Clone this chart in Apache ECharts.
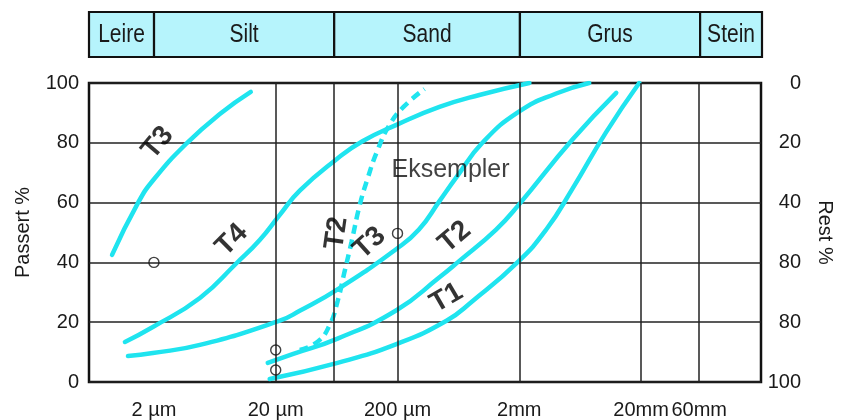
<!DOCTYPE html>
<html><head><meta charset="utf-8">
<script src="https://cdn.jsdelivr.net/npm/echarts@6/dist/echarts.min.js"></script>
<style>html,body{margin:0;padding:0;background:#fff}#c{width:843px;height:420px}</style>
</head><body><div id="c"></div>
<script>
// ---- axis ranges (grain size in mm, log scale) ----
const X_MIN = 0.000586, X_MAX = 193;
// ---- soil class bar ----
const soilBounds = [X_MIN, 0.002, 0.06, 2, 60, X_MAX];
const soilNames = ['Leire', 'Silt', 'Sand', 'Grus', 'Stein'];
// ---- grid / ticks ----
const gridX = [0.002, 0.02, 0.06, 0.2, 2, 20, 60];
const xTickValues = [0.002, 0.02, 0.2, 2, 20, 60];
const xTickLabels = ['2 µm', '20 µm', '200 µm', '2mm', '20mm', '60mm'];
const leftTickLabels = ['0', '20', '40', '60', '80', '100'];
const rightTickLabels = ['0', '20', '40', '80', '80', '100'];
// ---- curves (x: mm, y: passing %) ----
const t3aX = [0.000906, 0.00148, 0.002, 0.00373, 0.00695, 0.01248];
const t3aY = [42.5, 59.9, 67.8, 79.9, 89.6, 97.0];
const t4X = [0.001156, 0.00196, 0.00477, 0.00957, 0.01478, 0.0216, 0.0315, 0.0632, 0.103, 0.196, 0.442, 0.94, 2.42];
const t4Y = [13.4, 18.4, 28.1, 39.8, 47.5, 55.9, 64, 74.5, 80.5, 86, 92, 96, 100];
const t3bX = [0.001224, 0.00196, 0.00477, 0.0216, 0.0315, 0.0644, 0.196, 0.3, 0.442, 0.61, 0.995, 2.0, 4.02, 7.5];
const t3bY = [8.7, 9.7, 12.4, 20.5, 23.8, 31, 44.5, 51, 60.5, 68.5, 80, 90.5, 96.5, 100];
const t2X = [0.0172, 0.0275, 0.0644, 0.196, 0.442, 0.644, 1.29, 2.0, 5.44, 12.5];
const t2Y = [6.4, 9.3, 14.5, 24, 35, 40.5, 51, 59.5, 81, 96.7];
const t1X = [0.01786, 0.0644, 0.196, 0.505, 0.824, 1.93, 3.33, 5.44, 10.3, 19.3];
const t1Y = [1.0, 6.4, 12.7, 20.5, 27, 40, 51, 64.5, 83.5, 100];
const t2dX = [0.0315, 0.0442, 0.0554, 0.0644, 0.0736, 0.084, 0.0977, 0.1135, 0.137, 0.172, 0.224, 0.333];
const t2dY = [10.7, 13.5, 19, 27, 37, 47, 59, 68, 77.5, 86, 92, 98];
// ---- sample circles ----
const circleX = [0.002, 0.02, 0.02, 0.2];
const circleY = [40, 10.7, 4, 49.7];
// ---- annotations ----
const noteText = ['T3', 'T4', 'T2', 'T3', 'T2', 'T1'];
const noteX = [0.00215, 0.00871, 0.0633, 0.118, 0.59, 0.505];
const noteY = [80, 47.5, 49.8, 46.5, 48.5, 28.1];
const noteRot = [50, 45, 82, 42, 40, 30];
const titleNote = { text: 'Eksempler', x: 0.545, y: 70.9 };

const CYAN = '#1fe4ef';
const FONT = 'Liberation Sans, Arial, sans-serif';
const zip = (xs, ys) => xs.map((x, i) => [x, ys[i]]);

const chart = echarts.init(document.getElementById('c'), null, { renderer: 'canvas' });

function curve(name, xs, ys, dashed) {
  return {
    name, type: 'line', xAxisIndex: 0, yAxisIndex: 0, data: zip(xs, ys),
    smooth: 0.5, symbol: 'none', silent: true, z: 3,
    lineStyle: { color: CYAN, width: 4.5, cap: dashed ? 'butt' : 'round', type: dashed ? [9, 6] : 'solid' }
  };
}

const xAxisBase = {
  type: 'log', logBase: 10, min: X_MIN, max: X_MAX,
  axisLine: { show: false }, axisTick: { show: false }, axisLabel: { show: false }, splitLine: { show: false }
};

const option = {
  animation: false,
  grid: [
    { left: 89, right: 81, top: 83, bottom: 38, show: true, borderColor: '#111', borderWidth: 2.5, backgroundColor: '#fff' },
    { left: 89, right: 81, top: 12, height: 45, show: false }
  ],
  xAxis: [
    Object.assign({ gridIndex: 0 }, xAxisBase),
    Object.assign({ gridIndex: 1 }, xAxisBase)
  ],
  yAxis: [
    { type: 'value', gridIndex: 0, min: 0, max: 100, interval: 20, position: 'left',
      name: 'Passert %', nameLocation: 'middle', nameGap: 56, nameRotate: 90,
      nameTextStyle: { fontFamily: FONT, fontSize: 20, color: '#1a1a1a' },
      axisLine: { show: false }, axisTick: { show: false },
      axisLabel: { fontFamily: FONT, fontSize: 20, color: '#1a1a1a', margin: 10,
        formatter: v => leftTickLabels[Math.round(v / 20)] },
      splitLine: { show: true, lineStyle: { color: '#222', width: 1.5 } } },
    { type: 'value', gridIndex: 0, min: 0, max: 100, interval: 20, position: 'right', inverse: true,
      name: 'Rest %', nameLocation: 'middle', nameGap: 54, nameRotate: -90,
      nameTextStyle: { fontFamily: FONT, fontSize: 20, color: '#1a1a1a' },
      axisLine: { show: false }, axisTick: { show: false }, splitLine: { show: false },
      axisLabel: { fontFamily: FONT, fontSize: 20, color: '#1a1a1a', margin: 40, align: 'right',
        formatter: v => rightTickLabels[Math.round(v / 20)] } },
    { type: 'value', gridIndex: 1, min: 0, max: 1, show: false }
  ],
  series: [
    { type: 'line', xAxisIndex: 0, yAxisIndex: 0, data: [], silent: true, z: 2,
      markLine: { silent: true, symbol: 'none', label: { show: false },
        lineStyle: { color: '#222', width: 1.5, type: 'solid' },
        data: gridX.map(v => ({ xAxis: v })) } },
    curve('T3a', t3aX, t3aY),
    curve('T4', t4X, t4Y),
    curve('T3b', t3bX, t3bY),
    curve('T2', t2X, t2Y),
    curve('T1', t1X, t1Y),
    curve('T2d', t2dX, t2dY, true),
    { type: 'scatter', xAxisIndex: 0, yAxisIndex: 0, data: zip(circleX, circleY), z: 5,
      symbol: 'circle', symbolSize: 10, silent: true,
      itemStyle: { color: 'rgba(255,255,255,0)', borderColor: '#111', borderWidth: 1.4 } },
    { type: 'scatter', xAxisIndex: 0, yAxisIndex: 0, symbolSize: 0, silent: true, z: 6,
      data: noteX.map((x, i) => ({ value: [x, noteY[i]],
        label: { show: true, position: 'inside', formatter: noteText[i], rotate: noteRot[i],
          fontFamily: FONT, fontSize: 28, fontWeight: 'bold', color: '#000' } })).concat([
        { value: [titleNote.x, titleNote.y],
          label: { show: true, position: 'inside', formatter: titleNote.text,
            fontFamily: FONT, fontSize: 25, color: '#111' } }]) },
    { type: 'custom', xAxisIndex: 1, yAxisIndex: 2, silent: true, z: 3,
      data: soilNames.map((n, i) => [soilBounds[i], soilBounds[i + 1], i]),
      renderItem: (params, api) => {
        const a = api.coord([api.value(0), 1]);
        const b = api.coord([api.value(1), 0]);
        const name = soilNames[api.value(2)];
        return { type: 'group', children: [
          { type: 'rect', shape: { x: a[0], y: a[1], width: b[0] - a[0], height: b[1] - a[1] },
            style: { fill: '#b6f4fc', stroke: '#111', lineWidth: 2.2 } },
          { type: 'text', x: (a[0] + b[0]) / 2, y: (a[1] + b[1]) / 2 + 1, scaleX: 0.84, scaleY: 1,
            style: { x: 0, y: 0, text: name,
            fontFamily: FONT, fontSize: 25,
            fill: '#1a1a1a', align: 'center', verticalAlign: 'middle' } }
        ] };
      } }
  ]
};
chart.setOption(option);

// x tick labels placed through the axis scale
const yLab = chart.convertToPixel({ yAxisIndex: 0 }, 0) + 28;
chart.setOption({ graphic: xTickValues.map((v, i) => ({
  type: 'text', silent: true,
  x: chart.convertToPixel({ xAxisIndex: 0 }, v), y: yLab,
  style: { text: xTickLabels[i], fontFamily: FONT, fontSize: 20, fill: '#1a1a1a', align: 'center', verticalAlign: 'middle' }
})) });
</script></body></html>
